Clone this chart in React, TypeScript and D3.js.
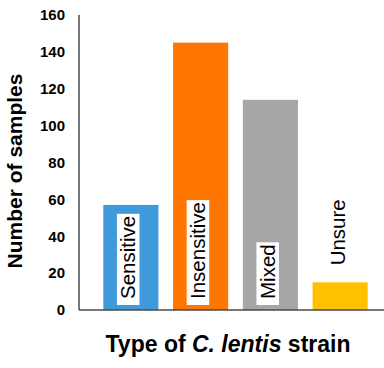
import React, { useEffect, useRef } from 'react';
import * as d3 from 'd3';

// chart data
const categories = ['Sensitive', 'Insensitive', 'Mixed', 'Unsure'];
const counts = [57, 145, 114, 15];
const barColors = ['#3E9ADB', '#FF7600', '#A6A6A6', '#FFC000'];
const yTicks = [0, 20, 40, 60, 80, 100, 120, 140, 160];

const W = 384;
const H = 368;
const FONT = '"Liberation Sans", Arial, sans-serif';

function App() {
  const svgRef = useRef<SVGSVGElement>(null);

  useEffect(() => {
    const svg = d3.select(svgRef.current);
    svg.selectAll('*').remove();

    const left = 79;
    const bottom = 310;
    const top = 15;

    const x = d3.scaleBand<string>()
      .domain(categories)
      .range([96, 375])
      .paddingInner(0.21)
      .paddingOuter(0.105);
    const y = d3.scaleLinear().domain([0, 160]).range([bottom, top]);

    // bars
    svg.append('g')
      .selectAll('rect')
      .data(categories)
      .enter()
      .append('rect')
      .attr('x', d => x(d)!)
      .attr('width', x.bandwidth())
      .attr('y', (d, i) => y(counts[i]))
      .attr('height', (d, i) => y(0) - y(counts[i]))
      .attr('fill', (d, i) => barColors[i]);

    // y tick labels
    svg.append('g')
      .selectAll('text')
      .data(yTicks)
      .enter()
      .append('text')
      .attr('x', 65)
      .attr('y', d => y(d))
      .attr('dy', '0.35em')
      .attr('text-anchor', 'end')
      .attr('font-family', FONT)
      .attr('font-weight', 'bold')
      .attr('font-size', 15)
      .attr('fill', '#000')
      .text(d => d);

    // axis lines
    svg.append('line')
      .attr('x1', left).attr('x2', left)
      .attr('y1', y(160)).attr('y2', y(0))
      .attr('stroke', '#4a4a4a').attr('stroke-width', 1.5);
    svg.append('line')
      .attr('x1', left).attr('x2', W)
      .attr('y1', y(0)).attr('y2', y(0))
      .attr('stroke', '#4a4a4a').attr('stroke-width', 1.5);

    // rotated category labels, in white boxes when inside the bar
    const fs = 20.5;
    categories.forEach((c, i) => {
      const cx = x(c)! + x.bandwidth() / 2 + 4.5;
      const inside = counts[i] > 40;
      const startY = inside ? y(0) - 11 : y(counts[i]) - 17;
      const g = svg.append('g').attr('transform', `translate(${cx},${startY}) rotate(-90)`);
      const box = g.append('rect').attr('fill', '#fff');
      const t = g.append('text')
        .attr('x', 0)
        .attr('y', 0)
        .attr('font-family', FONT)
        .attr('font-size', fs)
        .attr('fill', '#000')
        .text(c);
      const len = (t.node() as SVGTextElement).getComputedTextLength();
      if (inside) {
        box.attr('x', -6).attr('width', len + 8)
          .attr('y', -fs * 0.9).attr('height', fs * 1.1);
      } else {
        box.remove();
      }
    });

    // axis titles
    svg.append('text')
      .attr('transform', `translate(22,171) rotate(-90)`)
      .attr('text-anchor', 'middle')
      .attr('font-family', FONT)
      .attr('font-weight', 'bold')
      .attr('font-size', 21)
      .attr('fill', '#000')
      .text('Number of samples');

    const xt = svg.append('text')
      .attr('x', 228)
      .attr('y', 352)
      .attr('text-anchor', 'middle')
      .attr('font-family', FONT)
      .attr('font-weight', 'bold')
      .attr('font-size', 23)
      .attr('fill', '#000');
    xt.append('tspan').text('Type of ');
    xt.append('tspan').attr('font-style', 'italic').text('C. lentis');
    xt.append('tspan').text(' strain');
  }, []);

  return (
    <svg
      ref={svgRef}
      width={W}
      height={H}
      style={{ position: 'absolute', left: 0, top: 0, background: '#fff' }}
    />
  );
}

export default App;
